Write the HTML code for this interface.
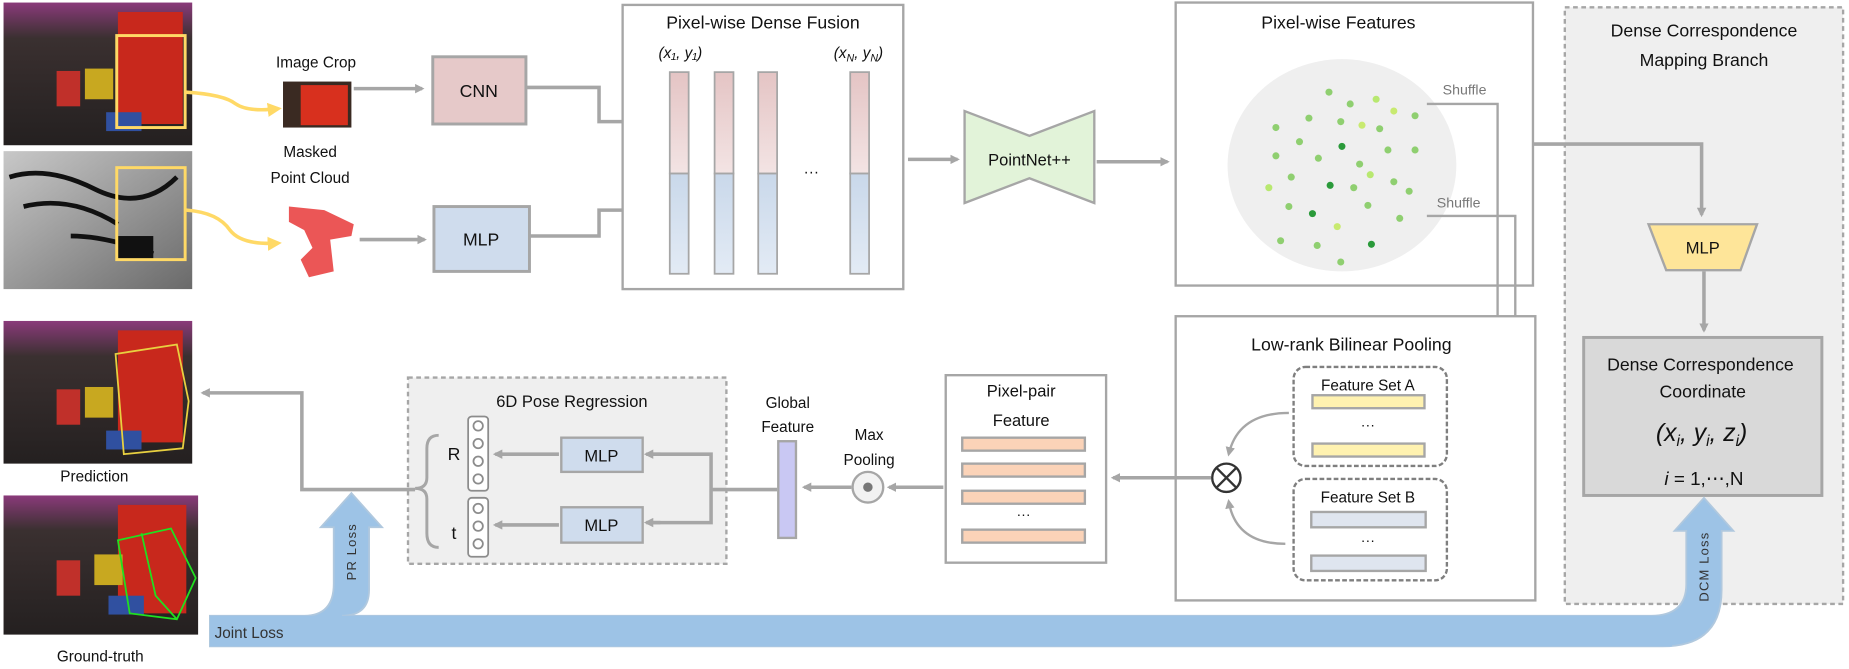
<!DOCTYPE html>
<html><head><meta charset="utf-8"><style>
html,body{margin:0;padding:0;background:#fff;}
svg{display:block;}
text{font-family:"Liberation Sans",sans-serif;fill:#111;}
</style></head><body>
<svg width="1849" height="669" viewBox="0 0 1568 567" xmlns="http://www.w3.org/2000/svg">
<defs>
<marker id="ah" markerWidth="8" markerHeight="8" refX="6" refY="4" orient="auto" markerUnits="userSpaceOnUse"><path d="M0,0 L8,4 L0,8 Z" fill="#a6a6a6"/></marker>
<marker id="ay" markerWidth="12" markerHeight="12" refX="9" refY="6" orient="auto" markerUnits="userSpaceOnUse"><path d="M0,0 L12,6 L0,12 Z" fill="#ffd966"/></marker>
<linearGradient id="pk" x1="0" y1="0" x2="0" y2="1"><stop offset="0" stop-color="#e4c4c4"/><stop offset="1" stop-color="#f3e4e4"/></linearGradient>
<linearGradient id="bl" x1="0" y1="0" x2="0" y2="1"><stop offset="0" stop-color="#c9d8ea"/><stop offset="1" stop-color="#e3ebf5"/></linearGradient>
<linearGradient id="dep" x1="0" y1="0" x2="1" y2="1"><stop offset="0" stop-color="#c8c8c8"/><stop offset="1" stop-color="#6a6a6a"/></linearGradient>
<linearGradient id="ph" x1="0" y1="0" x2="0" y2="1"><stop offset="0" stop-color="#8a3a7a"/><stop offset="0.25" stop-color="#3a3030"/><stop offset="1" stop-color="#242020"/></linearGradient>
</defs>
<g fill="none" stroke="#a6a6a6" stroke-width="3">
</g>
<!-- photos -->
<g id="photo">
<rect x="3" y="2" width="160" height="121" fill="url(#ph)"/>
<rect x="100" y="10" width="55" height="95" fill="#c8281c"/>
<rect x="48" y="60" width="20" height="30" fill="#c0302a"/>
<rect x="72" y="58" width="24" height="26" fill="#c8a820"/>
<rect x="90" y="95" width="30" height="16" fill="#3050a0"/>
</g>
<rect x="99" y="30" width="58" height="78" fill="none" stroke="#ffd966" stroke-width="2.5"/>
<rect x="3" y="128" width="160" height="117" fill="url(#dep)"/>
<path d="M8,150 Q40,140 80,160 T150,150 M20,175 Q60,165 100,190 M60,200 Q90,200 130,215" stroke="#111" stroke-width="4" fill="none"/>
<rect x="100" y="200" width="30" height="20" fill="#111"/>
<rect x="99" y="142" width="58" height="78" fill="none" stroke="#ffd966" stroke-width="2.5"/>
<path d="M158,78 Q190,80 200,88 Q210,95 236,92" stroke="#ffd966" stroke-width="3" fill="none" marker-end="url(#ay)"/>
<path d="M158,178 Q185,180 195,195 Q205,208 236,206" stroke="#ffd966" stroke-width="3" fill="none" marker-end="url(#ay)"/>
<text x="268" y="57" font-size="13" text-anchor="middle">Image Crop</text>
<rect x="240" y="69" width="58" height="39" fill="#3a2a22"/>
<rect x="255" y="72" width="40" height="34" fill="#d8301e"/>
<text x="263" y="133" font-size="13" text-anchor="middle">Masked</text>
<text x="263" y="155" font-size="13" text-anchor="middle">Point Cloud</text>
<path d="M245,175 L275,178 L300,190 L298,200 L280,203 L283,230 L262,235 L255,220 L265,210 L258,195 L245,188 Z" fill="#e83838" opacity="0.85"/>
<!-- prediction / gt photos -->
<rect x="3" y="272" width="160" height="121" fill="url(#ph)"/>
<rect x="100" y="280" width="55" height="95" fill="#c8281c"/>
<rect x="48" y="330" width="20" height="30" fill="#c0302a"/>
<rect x="72" y="328" width="24" height="26" fill="#c8a820"/>
<rect x="90" y="365" width="30" height="16" fill="#3050a0"/>
<path d="M98,300 L150,292 L160,340 L155,380 L105,385 Z" fill="none" stroke="#e8d040" stroke-width="1.5"/>
<text x="80" y="408" font-size="13" text-anchor="middle">Prediction</text>
<rect x="3" y="420" width="165" height="118" fill="url(#ph)"/>
<rect x="100" y="428" width="58" height="92" fill="#c8281c"/>
<rect x="48" y="475" width="20" height="30" fill="#c0302a"/>
<rect x="80" y="470" width="24" height="26" fill="#c8a820"/>
<rect x="92" y="505" width="30" height="16" fill="#3050a0"/>
<path d="M100,458 L145,448 L166,490 L150,525 L110,520 Z M120,452 L132,505 L150,525" fill="none" stroke="#20e020" stroke-width="1.5"/>
<text x="85" y="561" font-size="13" text-anchor="middle">Ground-truth</text>

<!-- CNN / MLP -->
<line x1="300" y1="75" x2="358" y2="75" stroke="#a6a6a6" stroke-width="3" marker-end="url(#ah)"/>
<rect x="367" y="48" width="79" height="57" fill="#e6c9c9" stroke="#a6a6a6" stroke-width="2.5"/>
<text x="406" y="82" font-size="15" text-anchor="middle">CNN</text>
<line x1="305" y1="203" x2="360" y2="203" stroke="#a6a6a6" stroke-width="3" marker-end="url(#ah)"/>
<rect x="368" y="175" width="81" height="55" fill="#cfdced" stroke="#a6a6a6" stroke-width="2.5"/>
<text x="408" y="208" font-size="15" text-anchor="middle">MLP</text>
<path d="M446,74 L508,74 L508,103 L558,103" stroke="#a6a6a6" stroke-width="3" fill="none" marker-end="url(#ah)"/>
<path d="M449,200 L508,200 L508,178 L558,178" stroke="#a6a6a6" stroke-width="3" fill="none" marker-end="url(#ah)"/>

<!-- dense fusion -->
<rect x="528" y="4" width="238" height="241" fill="#fff" stroke="#a6a6a6" stroke-width="2"/>
<text x="647" y="24" font-size="15" text-anchor="middle">Pixel-wise Dense Fusion</text>
<text x="577" y="49" font-size="13" font-family="Liberation Serif" font-style="italic" text-anchor="middle">(x₁, y₁)</text>
<text x="728" y="49" font-size="13" font-family="Liberation Serif" font-style="italic" text-anchor="middle">(x<tspan font-size="9" dy="3">N</tspan><tspan dy="-3">, y</tspan><tspan font-size="9" dy="3">N</tspan><tspan dy="-3">)</tspan></text>
<g stroke="#a6a6a6" stroke-width="1.5">
<rect x="568" y="61" width="16" height="86" fill="url(#pk)"/><rect x="568" y="147" width="16" height="85" fill="url(#bl)"/>
<rect x="606" y="61" width="16" height="86" fill="url(#pk)"/><rect x="606" y="147" width="16" height="85" fill="url(#bl)"/>
<rect x="643" y="61" width="16" height="86" fill="url(#pk)"/><rect x="643" y="147" width="16" height="85" fill="url(#bl)"/>
<rect x="721" y="61" width="16" height="86" fill="url(#pk)"/><rect x="721" y="147" width="16" height="85" fill="url(#bl)"/>
</g>
<text x="688" y="150" font-size="13" text-anchor="middle">···</text>

<line x1="770" y1="135" x2="812" y2="135" stroke="#a6a6a6" stroke-width="3" marker-end="url(#ah)"/>
<path d="M818,94 L873,115 L928,94 L928,172 L873,151 L818,172 Z" fill="#e2f3d9" stroke="#a6a6a6" stroke-width="2"/>
<text x="873" y="140" font-size="14" text-anchor="middle">PointNet++</text>
<line x1="930" y1="137" x2="990" y2="137" stroke="#a6a6a6" stroke-width="3" marker-end="url(#ah)"/>

<!-- pixel-wise features -->
<rect x="997" y="2" width="303" height="240" fill="#fff" stroke="#a6a6a6" stroke-width="2"/>
<text x="1135" y="24" font-size="15" text-anchor="middle">Pixel-wise Features</text>
<ellipse cx="1138" cy="140" rx="97" ry="90" fill="#efefef"/>
<g fill="#8fcf70">
<circle cx="1127" cy="78" r="3"/><circle cx="1145" cy="88" r="3"/><circle cx="1167" cy="84" r="3" fill="#b8e870"/><circle cx="1110" cy="100" r="3"/><circle cx="1137" cy="103" r="3"/><circle cx="1182" cy="94" r="3" fill="#c8ea70"/><circle cx="1200" cy="98" r="3"/><circle cx="1155" cy="106" r="3" fill="#c8ea70"/><circle cx="1170" cy="109" r="3"/><circle cx="1082" cy="108" r="3"/><circle cx="1102" cy="120" r="3"/><circle cx="1138" cy="124" r="3" fill="#2a9a3a"/><circle cx="1177" cy="127" r="3"/><circle cx="1200" cy="127" r="3"/><circle cx="1082" cy="132" r="3"/><circle cx="1118" cy="134" r="3"/><circle cx="1153" cy="139" r="3"/><circle cx="1162" cy="148" r="3" fill="#b8e870"/><circle cx="1095" cy="150" r="3"/><circle cx="1128" cy="157" r="3" fill="#2a9a3a"/><circle cx="1148" cy="159" r="3"/><circle cx="1182" cy="154" r="3"/><circle cx="1076" cy="159" r="3" fill="#b8e870"/><circle cx="1195" cy="162" r="3"/><circle cx="1093" cy="175" r="3"/><circle cx="1113" cy="181" r="3" fill="#2a9a3a"/><circle cx="1160" cy="174" r="3"/><circle cx="1187" cy="185" r="3"/><circle cx="1134" cy="192" r="3" fill="#c8ea70"/><circle cx="1086" cy="204" r="3"/><circle cx="1117" cy="208" r="3"/><circle cx="1163" cy="207" r="3" fill="#2a9a3a"/><circle cx="1137" cy="222" r="3"/>
</g>
<text x="1242" y="80" font-size="12" fill="#777" text-anchor="middle" style="fill:#777">Shuffle</text>
<text x="1237" y="176" font-size="12" text-anchor="middle" style="fill:#777">Shuffle</text>
<path d="M1210,88 L1270,88 L1270,355 L1233,355" stroke="#a6a6a6" stroke-width="2" fill="none" marker-end="url(#ah)"/>
<path d="M1210,183 L1285,183 L1285,449 L1233,449" stroke="#a6a6a6" stroke-width="2" fill="none" marker-end="url(#ah)"/>

<!-- DCM branch -->
<rect x="1327" y="6" width="236" height="506" fill="#efefef" stroke="#a6a6a6" stroke-width="2" stroke-dasharray="4,3"/>
<text x="1445" y="31" font-size="15" text-anchor="middle">Dense Correspondence</text>
<text x="1445" y="56" font-size="15" text-anchor="middle">Mapping Branch</text>
<path d="M1300,122 L1443,122 L1443,182" stroke="#a6a6a6" stroke-width="3" fill="none" marker-end="url(#ah)"/>
<path d="M1398,190 L1490,190 L1476,229 L1413,229 Z" fill="#fee599" stroke="#a6a6a6" stroke-width="2"/>
<text x="1444" y="215" font-size="14" text-anchor="middle">MLP</text>
<line x1="1445" y1="230" x2="1445" y2="280" stroke="#a6a6a6" stroke-width="3" marker-end="url(#ah)"/>
<rect x="1343" y="286" width="202" height="134" fill="#d9d9d9" stroke="#a6a6a6" stroke-width="2.5"/>
<text x="1442" y="314" font-size="15" text-anchor="middle">Dense Correspondence</text>
<text x="1444" y="337" font-size="15" text-anchor="middle">Coordinate</text>
<text x="1443" y="374" font-size="21" font-family="Liberation Serif" font-style="italic" text-anchor="middle">(x<tspan font-size="13" dy="4">i</tspan><tspan dy="-4">, y</tspan><tspan font-size="13" dy="4">i</tspan><tspan dy="-4">, z</tspan><tspan font-size="13" dy="4">i</tspan><tspan dy="-4">)</tspan></text>
<text x="1445" y="411" font-size="16" font-family="Liberation Serif" text-anchor="middle"><tspan font-style="italic">i</tspan> = 1,⋯,N</text>

<!-- bilinear pooling -->
<rect x="997" y="268" width="305" height="241" fill="#fff" stroke="#a6a6a6" stroke-width="2"/>
<text x="1146" y="297" font-size="15" text-anchor="middle">Low-rank Bilinear Pooling</text>
<rect x="1097" y="311" width="130" height="84" rx="10" fill="#fff" stroke="#7f7f7f" stroke-width="2" stroke-dasharray="4,2"/>
<text x="1160" y="331" font-size="13" text-anchor="middle">Feature Set A</text>
<rect x="1113" y="335" width="95" height="11" fill="#fff2b0" stroke="#a6a6a6" stroke-width="2"/>
<text x="1160" y="364" font-size="12" text-anchor="middle">···</text>
<rect x="1113" y="376" width="95" height="11" fill="#fff2b0" stroke="#a6a6a6" stroke-width="2"/>
<rect x="1097" y="406" width="130" height="86" rx="10" fill="#fff" stroke="#7f7f7f" stroke-width="2" stroke-dasharray="4,2"/>
<text x="1160" y="426" font-size="13" text-anchor="middle">Feature Set B</text>
<rect x="1112" y="434" width="97" height="13" fill="#dfe5ef" stroke="#a6a6a6" stroke-width="2"/>
<text x="1160" y="462" font-size="12" text-anchor="middle">···</text>
<rect x="1112" y="471" width="97" height="13" fill="#dfe5ef" stroke="#a6a6a6" stroke-width="2"/>
<path d="M1093,350 Q1050,350 1042,385" stroke="#a6a6a6" stroke-width="2" fill="none" marker-end="url(#ah)"/>
<path d="M1090,461 Q1048,461 1042,425" stroke="#a6a6a6" stroke-width="2" fill="none" marker-end="url(#ah)"/>
<circle cx="1040" cy="405" r="12" fill="#fff" stroke="#333" stroke-width="2"/>
<path d="M1032,397 L1048,413 M1048,397 L1032,413" stroke="#333" stroke-width="2"/>
<line x1="1027" y1="405" x2="944" y2="405" stroke="#a6a6a6" stroke-width="3" marker-end="url(#ah)"/>

<!-- pixel pair -->
<rect x="802" y="318" width="136" height="159" fill="#fff" stroke="#a6a6a6" stroke-width="2"/>
<text x="866" y="336" font-size="14" text-anchor="middle">Pixel-pair</text>
<text x="866" y="361" font-size="14" text-anchor="middle">Feature</text>
<g fill="#fbd3b8" stroke="#a6a6a6" stroke-width="2">
<rect x="816" y="371" width="104" height="11"/><rect x="816" y="393" width="104" height="11"/><rect x="816" y="416" width="104" height="11"/><rect x="816" y="449" width="104" height="11"/>
</g>
<text x="868" y="440" font-size="12" text-anchor="middle">···</text>
<line x1="800" y1="413" x2="754" y2="413" stroke="#a6a6a6" stroke-width="3" marker-end="url(#ah)"/>
<text x="737" y="373" font-size="13" text-anchor="middle">Max</text>
<text x="737" y="394" font-size="13" text-anchor="middle">Pooling</text>
<circle cx="736" cy="413" r="13" fill="#f2f2f2" stroke="#a6a6a6" stroke-width="2"/>
<circle cx="736" cy="413" r="4" fill="#777"/>
<line x1="722" y1="413" x2="682" y2="413" stroke="#a6a6a6" stroke-width="3" marker-end="url(#ah)"/>
<text x="668" y="346" font-size="13" text-anchor="middle">Global</text>
<text x="668" y="366" font-size="13" text-anchor="middle">Feature</text>

<!-- 6D pose -->
<rect x="346" y="320" width="270" height="158" fill="#efefef" stroke="#a6a6a6" stroke-width="2" stroke-dasharray="4,3"/>
<rect x="660" y="374" width="15" height="82" fill="#c9c8f3" stroke="#a6a6a6" stroke-width="2"/>
<text x="485" y="345" font-size="14" text-anchor="middle">6D Pose Regression</text>
<path d="M659,415 L603,415 L603,385 L552,385 M603,415 L603,443 L552,443" stroke="#a6a6a6" stroke-width="3" fill="none"/>
<path d="M560,385 L548,385" stroke="#a6a6a6" stroke-width="3" marker-end="url(#ah)"/>
<path d="M560,443 L548,443" stroke="#a6a6a6" stroke-width="3" marker-end="url(#ah)"/>
<rect x="476" y="371" width="69" height="29" fill="#cfdced" stroke="#a6a6a6" stroke-width="2"/>
<text x="510" y="391" font-size="14" text-anchor="middle">MLP</text>
<rect x="476" y="430" width="69" height="30" fill="#cfdced" stroke="#a6a6a6" stroke-width="2"/>
<text x="510" y="450" font-size="14" text-anchor="middle">MLP</text>
<line x1="474" y1="385" x2="420" y2="385" stroke="#a6a6a6" stroke-width="3" marker-end="url(#ah)"/>
<line x1="474" y1="445" x2="420" y2="445" stroke="#a6a6a6" stroke-width="3" marker-end="url(#ah)"/>
<g fill="#fff" stroke="#8c8c8c" stroke-width="1.5">
<rect x="397" y="353" width="17" height="63" rx="3"/>
<circle cx="405.5" cy="361" r="4"/><circle cx="405.5" cy="376" r="4"/><circle cx="405.5" cy="391" r="4"/><circle cx="405.5" cy="406" r="4"/>
<rect x="397" y="422" width="17" height="50" rx="3"/>
<circle cx="405.5" cy="431" r="4"/><circle cx="405.5" cy="446" r="4"/><circle cx="405.5" cy="461" r="4"/>
</g>
<text x="385" y="390" font-size="15" text-anchor="middle">R</text>
<text x="385" y="457" font-size="15" text-anchor="middle">t</text>
<path d="M372,369 Q362,369 362,380 L362,405 Q362,414 352,414 Q362,414 362,423 L362,452 Q362,464 372,464" stroke="#a6a6a6" stroke-width="2.5" fill="none"/>
<path d="M352,415 L256,415 L256,333 L172,333" stroke="#a6a6a6" stroke-width="3" fill="none" marker-end="url(#ah)"/>

<!-- loss band -->
<path d="M178,522 L258,522 Q283,522 283,495 L283,447 L272,447 L298,418 L324,447 L313,447 L313,500 Q313,522 290,522 L1400,522 Q1430,522 1430,495 L1430,450 L1420,450 L1445,422 L1470,450 L1460,450 L1460,500 Q1460,548 1410,548 L178,548 Z" fill="#9dc3e6" stroke="#b0c8de" stroke-width="1.5"/>
<rect x="178" y="522" width="1240" height="26" fill="#9dc3e6"/>
<text x="182" y="541" font-size="13" style="fill:#333">Joint Loss</text>
<text x="0" y="0" font-size="11" transform="translate(302,492) rotate(-90)" style="fill:#333;letter-spacing:1px">PR Loss</text>
<text x="0" y="0" font-size="11" transform="translate(1449,510) rotate(-90)" style="fill:#333;letter-spacing:1px">DCM Loss</text>
</svg>
</body></html>
